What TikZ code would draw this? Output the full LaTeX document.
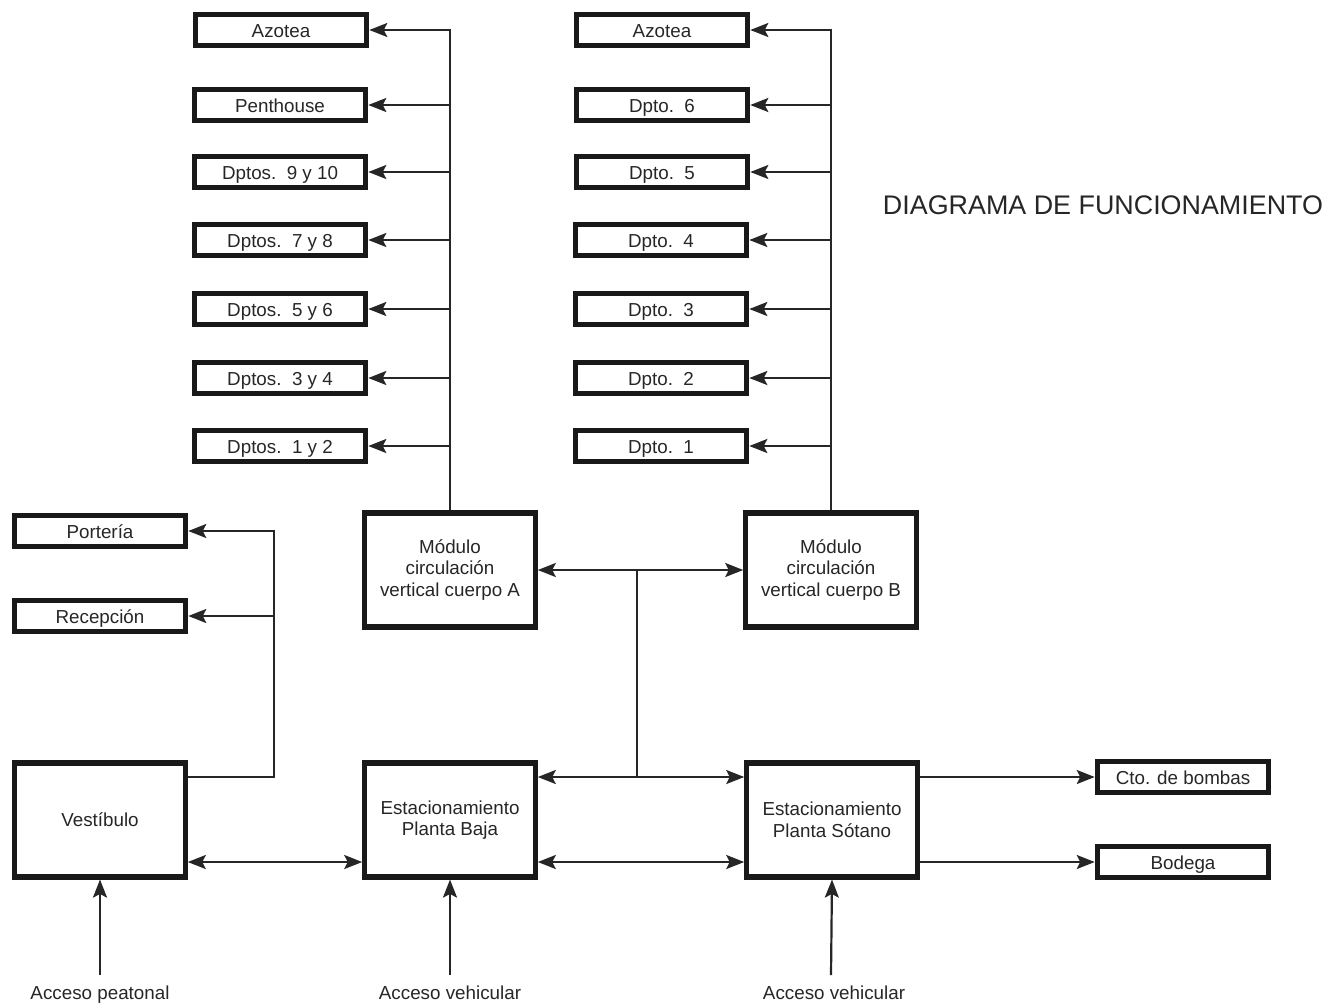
\documentclass[tikz,border=0pt]{standalone}
\usepackage{fontspec}
\setmainfont{Liberation Sans}
\usetikzlibrary{positioning, arrows.meta, calc}

\tikzset{
	frame/.style={draw=black!90, line width=2.9pt, inner sep=0pt, text=black!85, font=\fontsize{10.7}{12.3}\selectfont},
	box/.style={frame, minimum width=3.43cm, minimum height=0.61cm, text height=1.8ex, text depth=0.1ex},
	bigbox/.style={frame, minimum width=3.41cm, minimum height=2.28cm, align=center},
	lbl/.style={text=black!85, font=\fontsize{10.7}{12.3}\selectfont, anchor=base},
	arr/.style={draw=black!85, line width=1.25pt, -{Stealth[length=0.36cm, width=0.28cm, inset=0.07cm]}},
	darr/.style={arr, {Stealth[length=0.36cm, width=0.28cm, inset=0.07cm]}-{Stealth[length=0.36cm, width=0.28cm, inset=0.07cm]}}
}

\begin{document}
\begin{tikzpicture}[x=0.02cm, y=-0.02cm]
	\useasboundingbox (0,0) rectangle (1337,1004);
	% cuerpo A
	\node[box] (azA) at (281,30) {Azotea};
	\node[box] (pent) at (280,105) {Penthouse};
	\node[box] (a910) at (280,172) {Dptos.~~9 y 10};
	\node[box] (a78) at (280,240) {Dptos.~~7 y 8};
	\node[box] (a56) at (280,309) {Dptos.~~5 y 6};
	\node[box] (a34) at (280,378) {Dptos.~~3 y 4};
	\node[box] (a12) at (280,446) {Dptos.~~1 y 2};
	% cuerpo B
	\node[box] (azB) at (662,30) {Azotea};
	\node[box] (b6) at (662,105) {Dpto.~~6};
	\node[box] (b5) at (662,172) {Dpto.~~5};
	\node[box] (b4) at (661,240) {Dpto.~~4};
	\node[box] (b3) at (661,309) {Dpto.~~3};
	\node[box] (b2) at (661,378) {Dpto.~~2};
	\node[box] (b1) at (661,446) {Dpto.~~1};
	\node[lbl, anchor=center, font=\fontsize{15.3}{18}\selectfont] (title) at (1103,205) {DIAGRAMA DE FUNCIONAMIENTO};
	% modulos y planta baja
	\node[bigbox] (modA) at (450,570) {Módulo\\circulación\\vertical cuerpo A};
	\node[bigbox] (modB) at (831,570) {Módulo\\circulación\\vertical cuerpo B};
	\node[box] (port) at (100,531) {Portería};
	\node[box] (recep) at (100,616) {Recepción};
	\node[bigbox] (vest) at (100,820) {Vestíbulo};
	\node[bigbox] (estPB) at (450,820) {Estacionamiento\\Planta Baja};
	\node[bigbox] (estPS) at (832,820) {Estacionamiento\\Planta Sótano};
	\node[box] (bomb) at (1183,777) {Cto. de bombas};
	\node[box] (bodega) at (1183,862) {Bodega};
	\node[lbl] (accP) at (100,999) {Acceso peatonal};
	\node[lbl] (accV1) at (450,999) {Acceso vehicular};
	\node[lbl] (accV2) at (834,999) {Acceso vehicular};
	\coordinate (vbus) at (274,777);
	\coordinate (mbus) at (637,777);
	\coordinate (r1) at (0,777);
	\coordinate (r2) at (0,862);
	% conexiones cuerpo A
	\draw[arr] (modA.north) -- (modA.north |- azA.east) -- (azA.east);
	\foreach \n in {pent, a910, a78, a56, a34, a12}
		\draw[arr] (modA.north |- \n.east) -- (\n.east);
	% conexiones cuerpo B
	\draw[arr] (modB.north) -- (modB.north |- azB.east) -- (azB.east);
	\foreach \n in {b6, b5, b4, b3, b2, b1}
		\draw[arr] (modB.north |- \n.east) -- (\n.east);
	% vestibulo
	\draw[arr] (vest.east |- vbus) -- (vbus) |- (port.east);
	\draw[arr] (vbus |- recep.east) -- (recep.east);
	\draw[darr] (vest.east |- r2) -- (estPB.west |- r2);
	% estacionamientos
	\draw[darr] (modA.east) -- (modB.west);
	\draw[line width=1.25pt, draw=black!85] (mbus |- modA.east) -- (mbus);
	\draw[darr] (estPB.east |- r1) -- (estPS.west |- r1);
	\draw[darr] (estPB.east |- r2) -- (estPS.west |- r2);
	\draw[arr] (estPS.east |- bomb.west) -- (bomb.west);
	\draw[arr] (estPS.east |- bodega.west) -- (bodega.west);
	% accesos
	\draw[arr] (100,975) -- (vest.south);
	\draw[arr] (450,975) -- (estPB.south);
	\draw[arr] (831,975) -- (estPS.south);
\end{tikzpicture}
\end{document}
